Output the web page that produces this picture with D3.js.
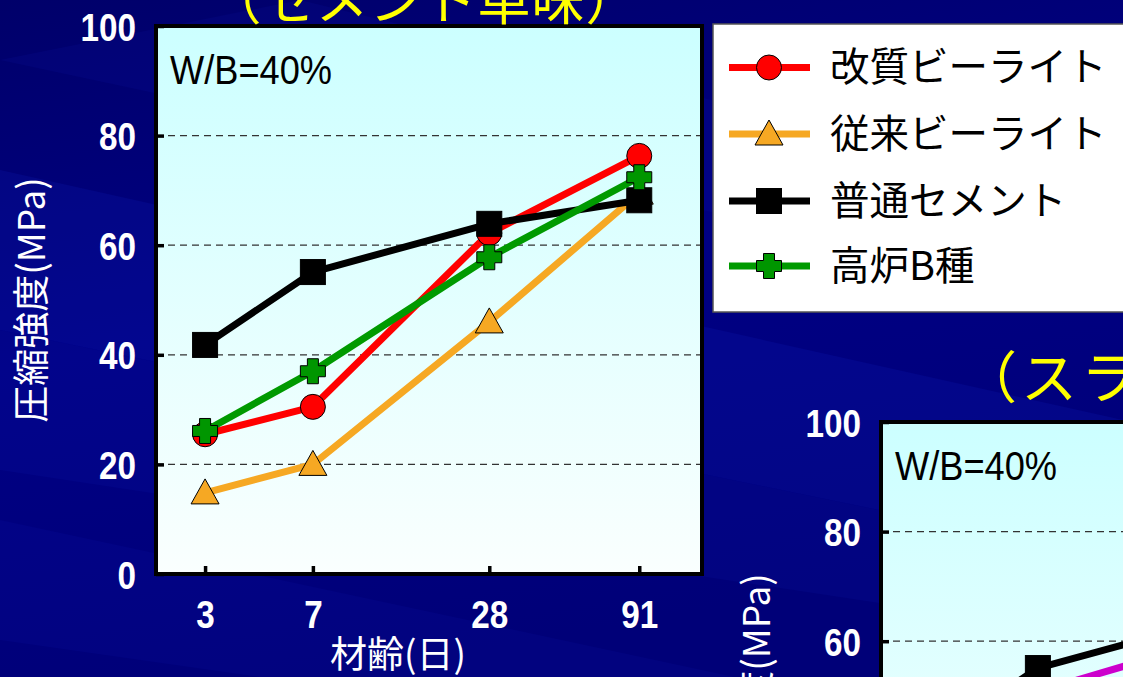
<!DOCTYPE html>
<html><head><meta charset="utf-8">
<script src="https://cdn.jsdelivr.net/npm/d3@7"></script>
<style>html,body{margin:0;padding:0;background:#000070;overflow:hidden}</style>
</head><body><svg id="c" width="1123" height="677"></svg>
<script>
// ---- data ----
const days = [3, 7, 28, 91];
const dayLabels = ["3", "7", "28", "91"];
const yTicks = [0, 20, 40, 60, 80, 100];
const seriesNames = ["改質ビーライト", "従来ビーライト", "普通セメント", "高炉B種"];
const kaishitsu = [25.5, 30.5, 62.2, 76.3];
const juurai = [14.8, 20.0, 46.0, 69.5];
const futsuu = [41.8, 55.1, 63.9, 68.2];
const kouro = [26.1, 37.0, 57.8, 72.4];
const slagPanel2 = [null, 50.8, 60.3, null];
const titles = ["（セメント単味）", "（スラ"];
const wbLabel = "W/B=40%";
const yTitle = "圧縮強度(MPa)";
const xTitle = "材齢(日)";

const svg = d3.select("#c");
const defs = svg.append("defs");

// background
const bg = defs.append("linearGradient").attr("id","bgg").attr("x1",0).attr("y1",0).attr("x2",0.3).attr("y2",1);
bg.append("stop").attr("offset","0").attr("stop-color","#00006a");
bg.append("stop").attr("offset","0.5").attr("stop-color","#000084");
bg.append("stop").attr("offset","1").attr("stop-color","#000078");
svg.append("rect").attr("width",1123).attr("height",677).attr("fill","url(#bgg)");
const bands = [
  [[0,170],[1123,420],[1123,560],[0,330]],
  [[0,330],[1123,560],[1123,640],[0,470]],
  [[300,0],[1123,200],[1123,300],[0,60]],
  [[0,520],[1123,760],[1123,800],[0,640]]
];
const bandOp = [0.18, 0.12, 0.10, 0.10];
bands.forEach((b,i)=>svg.append("path").attr("d","M"+b.map(p=>p.join(",")).join("L")+"Z")
  .attr("fill","#1020c0").attr("opacity",bandOp[i]));

// plot gradient
const pg = defs.append("linearGradient").attr("id","pg").attr("x1",0).attr("y1",0).attr("x2",0).attr("y2",1);
pg.append("stop").attr("offset","0").attr("stop-color","#ccffff");
pg.append("stop").attr("offset","1").attr("stop-color","#fafffe");

const W = 546, H = 548;
const x = d3.scaleLog().domain([2.04, 149]).range([0, W]);
const y = d3.scaleLinear().domain([0, 100]).range([H, 0]);

const styles = [
  {color:"#ff0000", fill:"#ff0000", shape:"circle"},
  {color:"#f6a823", fill:"#f6a823", shape:"triangle"},
  {color:"#000000", fill:"#000000", shape:"square"},
  {color:"#009a00", fill:"#009600", shape:"cross"},
  {color:"#cc00cc", fill:"#cc00cc", shape:"circle"}
];

function marker(g, shape, cx, cy, fill) {
  if (shape === "circle") {
    g.append("circle").attr("cx",cx).attr("cy",cy).attr("r",12.5).attr("fill",fill).attr("stroke","#000").attr("stroke-width",1);
  } else if (shape === "square") {
    g.append("rect").attr("x",cx-12.5).attr("y",cy-12.5).attr("width",25).attr("height",25).attr("fill",fill).attr("stroke","#000").attr("stroke-width",1);
  } else if (shape === "triangle") {
    g.append("path").attr("d",`M${cx},${cy-14}L${cx+14},${cy+11}L${cx-14},${cy+11}Z`).attr("fill",fill).attr("stroke","#000").attr("stroke-width",1);
  } else if (shape === "cross") {
    const a=12.5, b=5.5;
    g.append("path").attr("d",`M${cx-b},${cy-a}H${cx+b}V${cy-b}H${cx+a}V${cy+b}H${cx+b}V${cy+a}H${cx-b}V${cy+b}H${cx-a}V${cy-b}H${cx-b}Z`)
      .attr("fill",fill).attr("stroke","#000").attr("stroke-width",1);
  }
}

const numFont = "'Liberation Sans Narrow', 'Liberation Sans', Arial, sans-serif";

function panel(ox, oy, series, id) {
  const g = svg.append("g").attr("transform",`translate(${ox},${oy})`);
  defs.append("clipPath").attr("id","clip"+id).append("rect").attr("x",0).attr("y",0).attr("width",W).attr("height",H);
  g.append("rect").attr("width",W).attr("height",H).attr("fill","url(#pg)");
  // grid
  g.selectAll(".grid").data(yTicks.filter(v=>v>0 && v<100)).join("line")
    .attr("x1",0).attr("x2",W).attr("y1",d=>y(d)).attr("y2",d=>y(d))
    .attr("stroke","#333").attr("stroke-width",1.3).attr("stroke-dasharray","7,5");
  const data = g.append("g").attr("clip-path",`url(#clip${id})`);
  const line = d3.line().defined(d=>d[1]!=null).x(d=>x(d[0])).y(d=>y(d[1]));
  series.forEach(s=>{
    const pts = days.map((d,i)=>[d, s.values[i]]);
    data.append("path").attr("d",line(pts)).attr("fill","none").attr("stroke",s.style.color)
      .attr("stroke-width",7).attr("stroke-linejoin","round");
    pts.filter(p=>p[1]!=null).forEach(p=>marker(data, s.style.shape, x(p[0]), y(p[1]), s.style.fill));
  });
  // frame
  g.append("rect").attr("width",W).attr("height",H).attr("fill","none").attr("stroke","#000").attr("stroke-width",4);
  // axes
  const ya = d3.axisLeft(y).tickValues(yTicks).tickSizeInner(-8).tickSizeOuter(0).tickPadding(20);
  const yg = g.append("g").call(ya);
  yg.select(".domain").remove();
  yg.selectAll("line").attr("stroke","#000").attr("stroke-width",3.5);
  yg.selectAll("text").attr("fill","#fff").style("font-family",numFont)
    .style("font-size","39px").style("font-weight","bold").attr("dy","0.36em")
    .attr("textLength",d=>String(d).length*18.5).attr("lengthAdjust","spacingAndGlyphs");
  const xa = d3.axisBottom(x).tickValues(days).tickFormat((d,i)=>dayLabels[i]).tickSizeInner(-8).tickSizeOuter(0).tickPadding(26);
  const xg = g.append("g").attr("transform",`translate(0,${H})`).call(xa);
  xg.select(".domain").remove();
  xg.selectAll("line").attr("stroke","#000").attr("stroke-width",3.5);
  xg.selectAll("text").attr("fill","#fff").style("font-family",numFont)
    .style("font-size","39px").style("font-weight","bold")
    .attr("textLength",(d,i)=>dayLabels[i].length*18.5).attr("lengthAdjust","spacingAndGlyphs");
  // W/B
  g.append("text").attr("x",14).attr("y",58).text(wbLabel)
    .style("font-family",numFont).style("font-size","40px")
    .attr("textLength",162).attr("lengthAdjust","spacingAndGlyphs").attr("fill","#000");
  // axis titles
  g.append("text").attr("transform",`translate(${-124},${274}) rotate(-90)`).attr("text-anchor","middle")
    .attr("dy","0.35em").text(yTitle).attr("fill","#fff")
    .style("font-family","'Noto Sans CJK JP', sans-serif").style("font-size","37px");
  g.append("text").attr("x",242).attr("y",642).attr("text-anchor","middle").text(xTitle).attr("fill","#fff")
    .style("font-family","'Noto Sans CJK JP', sans-serif").style("font-size","37px");
  return g;
}

panel(156, 26, [
  {values:kaishitsu, style:styles[0]},
  {values:juurai, style:styles[1]},
  {values:futsuu, style:styles[2]},
  {values:kouro, style:styles[3]}
], 1);

panel(881, 422, [
  {values:futsuu, style:styles[2]},
  {values:slagPanel2, style:styles[4]}
], 2);

// titles
svg.append("text").attr("x",424).attr("y",20).attr("text-anchor","middle").text(titles[0])
  .attr("fill","#ffff00").style("font-family","'Noto Sans CJK JP', sans-serif").style("font-size","53px")
  .style("letter-spacing","1px");
svg.append("text").attr("x",961).attr("y",398).text(titles[1])
  .attr("fill","#ffff00").style("font-family","'Noto Sans CJK JP', sans-serif").style("font-size","56px")
  .style("letter-spacing","4px");

// legend
const lg = svg.append("g");
lg.append("rect").attr("x",713).attr("y",24).attr("width",430).attr("height",288).attr("fill","#fff").attr("stroke","#555").attr("stroke-width",1.5);
const rowsY = [67.5, 134, 201, 266];
seriesNames.forEach((n,i)=>{
  const st = styles[i];
  lg.append("line").attr("x1",729).attr("x2",810).attr("y1",rowsY[i]).attr("y2",rowsY[i]).attr("stroke",st.color).attr("stroke-width",7);
  marker(lg, st.shape, 769, rowsY[i], st.fill);
  lg.append("text").attr("x",830).attr("y",rowsY[i]).attr("dy","0.35em").text(n).attr("fill","#000")
    .style("font-family","'Noto Sans CJK JP', sans-serif").style("font-size","39.5px");
});
</script></body></html>
